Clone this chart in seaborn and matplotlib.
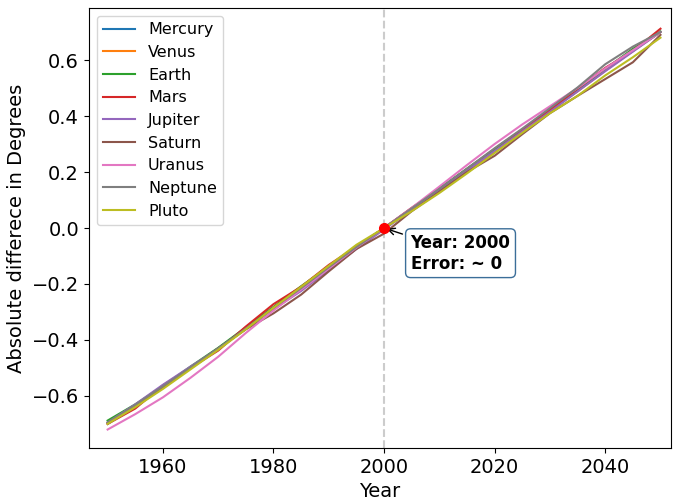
import matplotlib
matplotlib.use("Agg")
import matplotlib.pyplot as plt
import pandas as pd
import seaborn as sns

years = [1950, 1955, 1960, 1965, 1970, 1975, 1980, 1985, 1990, 1995, 2000,
         2005, 2010, 2015, 2020, 2025, 2030, 2035, 2040, 2045, 2050]

mercury = [-0.695, -0.635, -0.570, -0.500, -0.430, -0.360, -0.285, -0.215, -0.140, -0.070, 0.000,
           0.070, 0.140, 0.210, 0.280, 0.350, 0.420, 0.490, 0.565, 0.635, 0.700]
venus = [-0.695, -0.632, -0.568, -0.500, -0.432, -0.358, -0.285, -0.212, -0.140, -0.068, 0.000,
         0.068, 0.138, 0.210, 0.282, 0.352, 0.420, 0.488, 0.562, 0.632, 0.700]
earth = [-0.688, -0.630, -0.565, -0.495, -0.428, -0.355, -0.282, -0.208, -0.138, -0.068, 0.000,
         0.068, 0.140, 0.212, 0.282, 0.352, 0.422, 0.492, 0.568, 0.640, 0.702]
mars = [-0.700, -0.645, -0.562, -0.500, -0.438, -0.352, -0.272, -0.210, -0.132, -0.066, 0.000,
        0.072, 0.140, 0.205, 0.272, 0.350, 0.420, 0.498, 0.572, 0.632, 0.712]
jupiter = [-0.695, -0.630, -0.560, -0.495, -0.432, -0.360, -0.290, -0.225, -0.150, -0.075, -0.005,
           0.065, 0.135, 0.205, 0.275, 0.345, 0.415, 0.488, 0.560, 0.630, 0.700]
saturn = [-0.700, -0.635, -0.570, -0.500, -0.430, -0.362, -0.305, -0.238, -0.155, -0.075, -0.020,
          0.060, 0.130, 0.200, 0.258, 0.335, 0.410, 0.472, 0.532, 0.592, 0.690]
uranus = [-0.720, -0.665, -0.605, -0.535, -0.460, -0.375, -0.295, -0.220, -0.145, -0.070, 0.000,
          0.072, 0.148, 0.225, 0.300, 0.370, 0.435, 0.500, 0.570, 0.635, 0.700]
neptune = [-0.695, -0.632, -0.565, -0.498, -0.430, -0.360, -0.285, -0.215, -0.140, -0.068, 0.000,
           0.070, 0.140, 0.212, 0.285, 0.355, 0.428, 0.502, 0.585, 0.648, 0.700]
pluto = [-0.700, -0.640, -0.575, -0.505, -0.435, -0.362, -0.285, -0.210, -0.135, -0.060, 0.000,
         0.060, 0.125, 0.195, 0.268, 0.340, 0.410, 0.472, 0.545, 0.610, 0.680]

planets = ["Mercury", "Venus", "Earth", "Mars", "Jupiter",
           "Saturn", "Uranus", "Neptune", "Pluto"]
series = [mercury, venus, earth, mars, jupiter, saturn, uranus, neptune, pluto]

rows = []
for name, vals in zip(planets, series):
    for yr, v in zip(years, vals):
        rows.append({"Year": yr, "Diff": v, "Planet": name})
df = pd.DataFrame(rows)

fig = plt.figure(figsize=(6.73, 5), dpi=100)
ax = fig.add_axes([0.132, 0.104, 0.865, 0.880])

sns.lineplot(data=df, x="Year", y="Diff", hue="Planet", hue_order=planets,
             palette="tab10", linewidth=1.5, ax=ax)

ax.axvline(2000, color="#cccccc", linestyle="--", linewidth=1.5, zorder=0)
ax.plot([2000], [0.0], "o", color="red", markersize=7, zorder=5)
ax.annotate("Year: 2000\nError: ~ 0", xy=(2000, 0.0), xytext=(2004.8, -0.09),
            fontsize=12, fontweight="bold", va="center", ha="left",
            bbox=dict(boxstyle="round,pad=0.3", fc="white", ec="#3b6e99", lw=1),
            arrowprops=dict(arrowstyle="->", color="black", lw=1))

ax.set_xlabel("Year", fontsize=14)
ax.set_ylabel("Absolute differece in Degrees", fontsize=14)
ax.tick_params(labelsize=14)
ax.set_xlim(1946.6, 2051.9)
ax.set_ylim(-0.786, 0.786)
ax.set_yticks([-0.6, -0.4, -0.2, 0.0, 0.2, 0.4, 0.6])
ax.legend(loc="upper left", fontsize=11.5, handlelength=2, labelspacing=0.48)

fig.savefig("out.png", dpi=100)
